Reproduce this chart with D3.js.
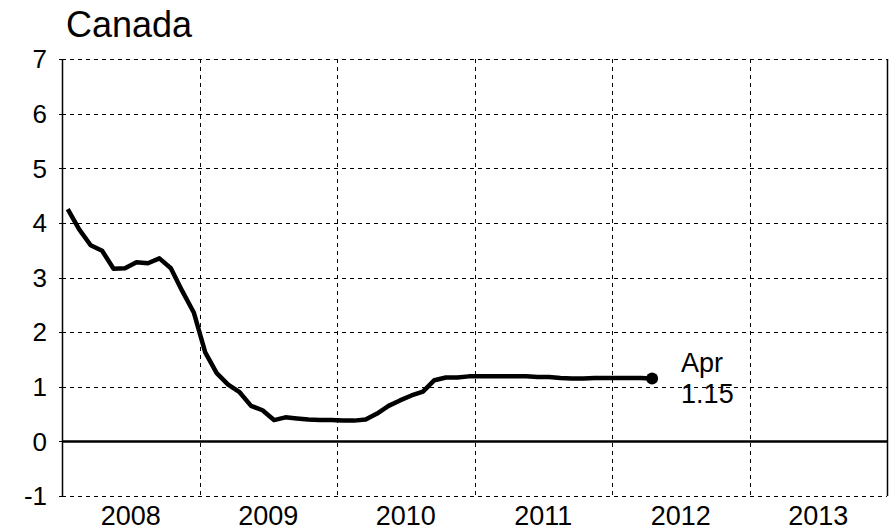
<!DOCTYPE html>
<html>
<head>
<meta charset="utf-8">
<script src="https://cdn.jsdelivr.net/npm/d3@7"></script>
<style>
  body { margin: 0; background: #fff; }
  svg text { font-family: "Liberation Sans", Arial, sans-serif; fill: #000; }
  .grid line { stroke: #000; stroke-width: 1; stroke-dasharray: 4,4; }
</style>
</head>
<body>
<svg id="chart" width="893" height="531"></svg>
<script>
// monthly rate, Jan 2008 - Apr 2012
var rates = [
  4.25, 3.88, 3.59, 3.49, 3.16, 3.17, 3.28, 3.26, 3.35, 3.17, 2.75, 2.36,
  1.63, 1.25, 1.04, 0.90, 0.65, 0.57, 0.39, 0.44, 0.42, 0.40, 0.39, 0.39,
  0.38, 0.38, 0.40, 0.51, 0.65, 0.75, 0.84, 0.91, 1.12, 1.17, 1.17, 1.19,
  1.19, 1.19, 1.19, 1.19, 1.19, 1.18, 1.18, 1.16, 1.15, 1.15, 1.16, 1.16,
  1.16, 1.16, 1.16, 1.15
];
var yearLabels = ["2008", "2009", "2010", "2011", "2012", "2013"];
var yTicks = [-1, 0, 1, 2, 3, 4, 5, 6, 7];
var lastLabel = ["Apr", "1.15"];

var svg = d3.select("#chart");
var plotLeft = 62, plotRight = 887, plotTop = 59, plotBottom = 496;

var x = d3.scaleLinear().domain([0, 72]).range([plotLeft, plotRight]); // months from Jan 2008
var y = d3.scaleLinear().domain([-1, 7]).range([plotBottom, plotTop]);

// horizontal grid
svg.append("g").attr("class", "grid")
  .selectAll("line").data(yTicks.filter(function(d){ return d != 0; }))
  .enter().append("line")
  .attr("x1", plotLeft).attr("x2", plotRight)
  .attr("y1", function(d){ return Math.round(y(d)) + 0.5; })
  .attr("y2", function(d){ return Math.round(y(d)) + 0.5; });

// vertical grid at year boundaries
svg.append("g").attr("class", "grid")
  .selectAll("line").data([12, 24, 36, 48, 60])
  .enter().append("line")
  .attr("x1", function(d){ return Math.round(x(d)) + 0.5; })
  .attr("x2", function(d){ return Math.round(x(d)) + 0.5; })
  .attr("y1", plotTop).attr("y2", plotBottom);

// small ticks left of axis
svg.append("g").selectAll("line").data(yTicks)
  .enter().append("line")
  .attr("x1", plotLeft - 3).attr("x2", plotLeft)
  .attr("y1", function(d){ return Math.round(y(d)) + 0.5; })
  .attr("y2", function(d){ return Math.round(y(d)) + 0.5; })
  .attr("stroke", "#000");

// left and right borders
svg.append("line").attr("x1", plotLeft + 0.5).attr("x2", plotLeft + 0.5).attr("y1", plotTop).attr("y2", plotBottom)
  .attr("stroke", "#000").attr("stroke-width", 1.5);
svg.append("line").attr("x1", plotRight + 0.5).attr("x2", plotRight + 0.5).attr("y1", plotTop).attr("y2", plotBottom)
  .attr("stroke", "#000").attr("stroke-width", 1.5);

// zero line
svg.append("line").attr("x1", plotLeft).attr("x2", plotRight)
  .attr("y1", y(0)).attr("y2", y(0))
  .attr("stroke", "#000").attr("stroke-width", 2.5);

// y labels
svg.append("g").selectAll("text").data(yTicks)
  .enter().append("text")
  .attr("x", 47)
  .attr("y", function(d){ return y(d); })
  .attr("dy", "0.36em")
  .attr("text-anchor", "end")
  .attr("font-size", 26)
  .text(function(d){ return d; });

// year labels
svg.append("g").selectAll("text").data(yearLabels)
  .enter().append("text")
  .attr("x", function(d, i){ return x(i * 12 + 6); })
  .attr("y", 525)
  .attr("text-anchor", "middle")
  .attr("font-size", 27)
  .text(function(d){ return d; });

// title
svg.append("text").attr("x", 66).attr("y", 37).attr("font-size", 36).text("Canada");

var line = d3.line()
  .x(function(d, i){ return x(i + 0.5); })
  .y(function(d){ return y(d); });

svg.append("path")
  .attr("d", line(rates))
  .attr("fill", "none")
  .attr("stroke", "#000")
  .attr("stroke-width", 4.5)
  .attr("stroke-linejoin", "round");

var lastI = rates.length - 1;
svg.append("circle")
  .attr("cx", x(lastI + 0.5))
  .attr("cy", y(rates[lastI]))
  .attr("r", 6)
  .attr("fill", "#000");

svg.append("g").selectAll("text").data(lastLabel)
  .enter().append("text")
  .attr("x", x(lastI + 0.5) + 29)
  .attr("y", function(d, i){ return 372 + i * 31; })
  .attr("font-size", 27)
  .text(function(d){ return d; });
</script>
</body>
</html>
